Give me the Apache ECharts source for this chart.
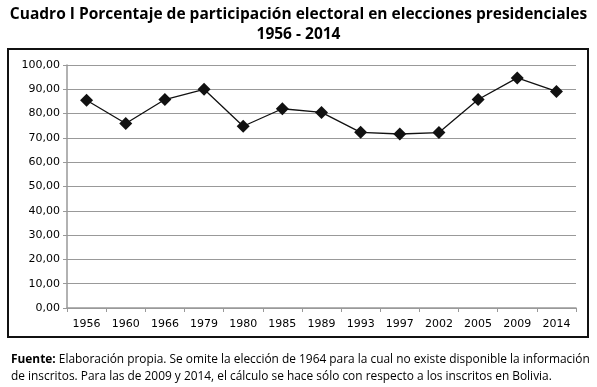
<!DOCTYPE html>
<html><head><meta charset="utf-8">
<script src="https://cdn.jsdelivr.net/npm/echarts@6/dist/echarts.min.js"></script>
<style>html,body{margin:0;padding:0;background:#fff}#c{width:597px;height:387px}</style>
</head><body><div id="c"></div>
<script>
const years = ['1956','1960','1966','1979','1980','1985','1989','1993','1997','2002','2005','2009','2014'];
const turnout = [85.5, 75.9, 85.8, 90.0, 74.8, 82.0, 80.5, 72.3, 71.6, 72.2, 85.8, 94.7, 89.1];
const yTicks = [0, 10, 20, 30, 40, 50, 60, 70, 80, 90, 100];

const chart = echarts.init(document.getElementById('c'), null, {renderer:'canvas'});
chart.setOption({
  animation:false,
  backgroundColor:'#fff',
  title:[{
    text:'Cuadro I Porcentaje de participación electoral en elecciones presidenciales\n1956 - 2014',
    left:'center', top:0,
    textStyle:{fontFamily:'Open Sans', fontWeight:'bold', fontSize:15.5, color:'#000', lineHeight:20}
  },{
    text:'{b|Fuente:} Elaboración propia. Se omite la elección de 1964 para la cual no existe disponible la información\nde inscritos. Para las de 2009 y 2014, el cálculo se hace sólo con respecto a los inscritos en Bolivia.',
    left:6, top:346,
    textStyle:{fontFamily:'Open Sans', fontWeight:'normal', fontSize:11.9, color:'#000', lineHeight:17,
      rich:{b:{fontFamily:'Open Sans', fontWeight:'bold', fontSize:11.9, color:'#000'}}}
  }],
  graphic:[
    {type:'rect', shape:{x:8, y:49, width:580, height:288}, style:{fill:'none', stroke:'#111', lineWidth:2}, silent:true}
  ],
  grid:{left:67, right:21, top:65, bottom:79, containLabel:false},
  xAxis:{
    type:'category', data:years, boundaryGap:true,
    axisLine:{lineStyle:{color:'#999', width:1.5}},
    axisTick:{show:true, length:4, lineStyle:{color:'#999'}},
    axisLabel:{color:'#000', fontFamily:'DejaVu Sans', fontSize:11, margin:11}
  },
  yAxis:{
    type:'value', min:0, max:100, interval:10,
    axisLine:{show:true, lineStyle:{color:'#999', width:1.5}},
    axisTick:{show:true, length:4, lineStyle:{color:'#999'}},
    splitLine:{lineStyle:{color:'#999', width:1}},
    axisLabel:{color:'#000', fontFamily:'DejaVu Sans', fontSize:11, margin:7,
      formatter:v => yTicks.includes(v) ? v.toFixed(2).replace('.', ',') : ''}
  },
  series:[{
    type:'line', data:turnout,
    symbol:'diamond', symbolSize:13,
    lineStyle:{color:'#111', width:1.3},
    itemStyle:{color:'#111'}
  }]
});
</script></body></html>
